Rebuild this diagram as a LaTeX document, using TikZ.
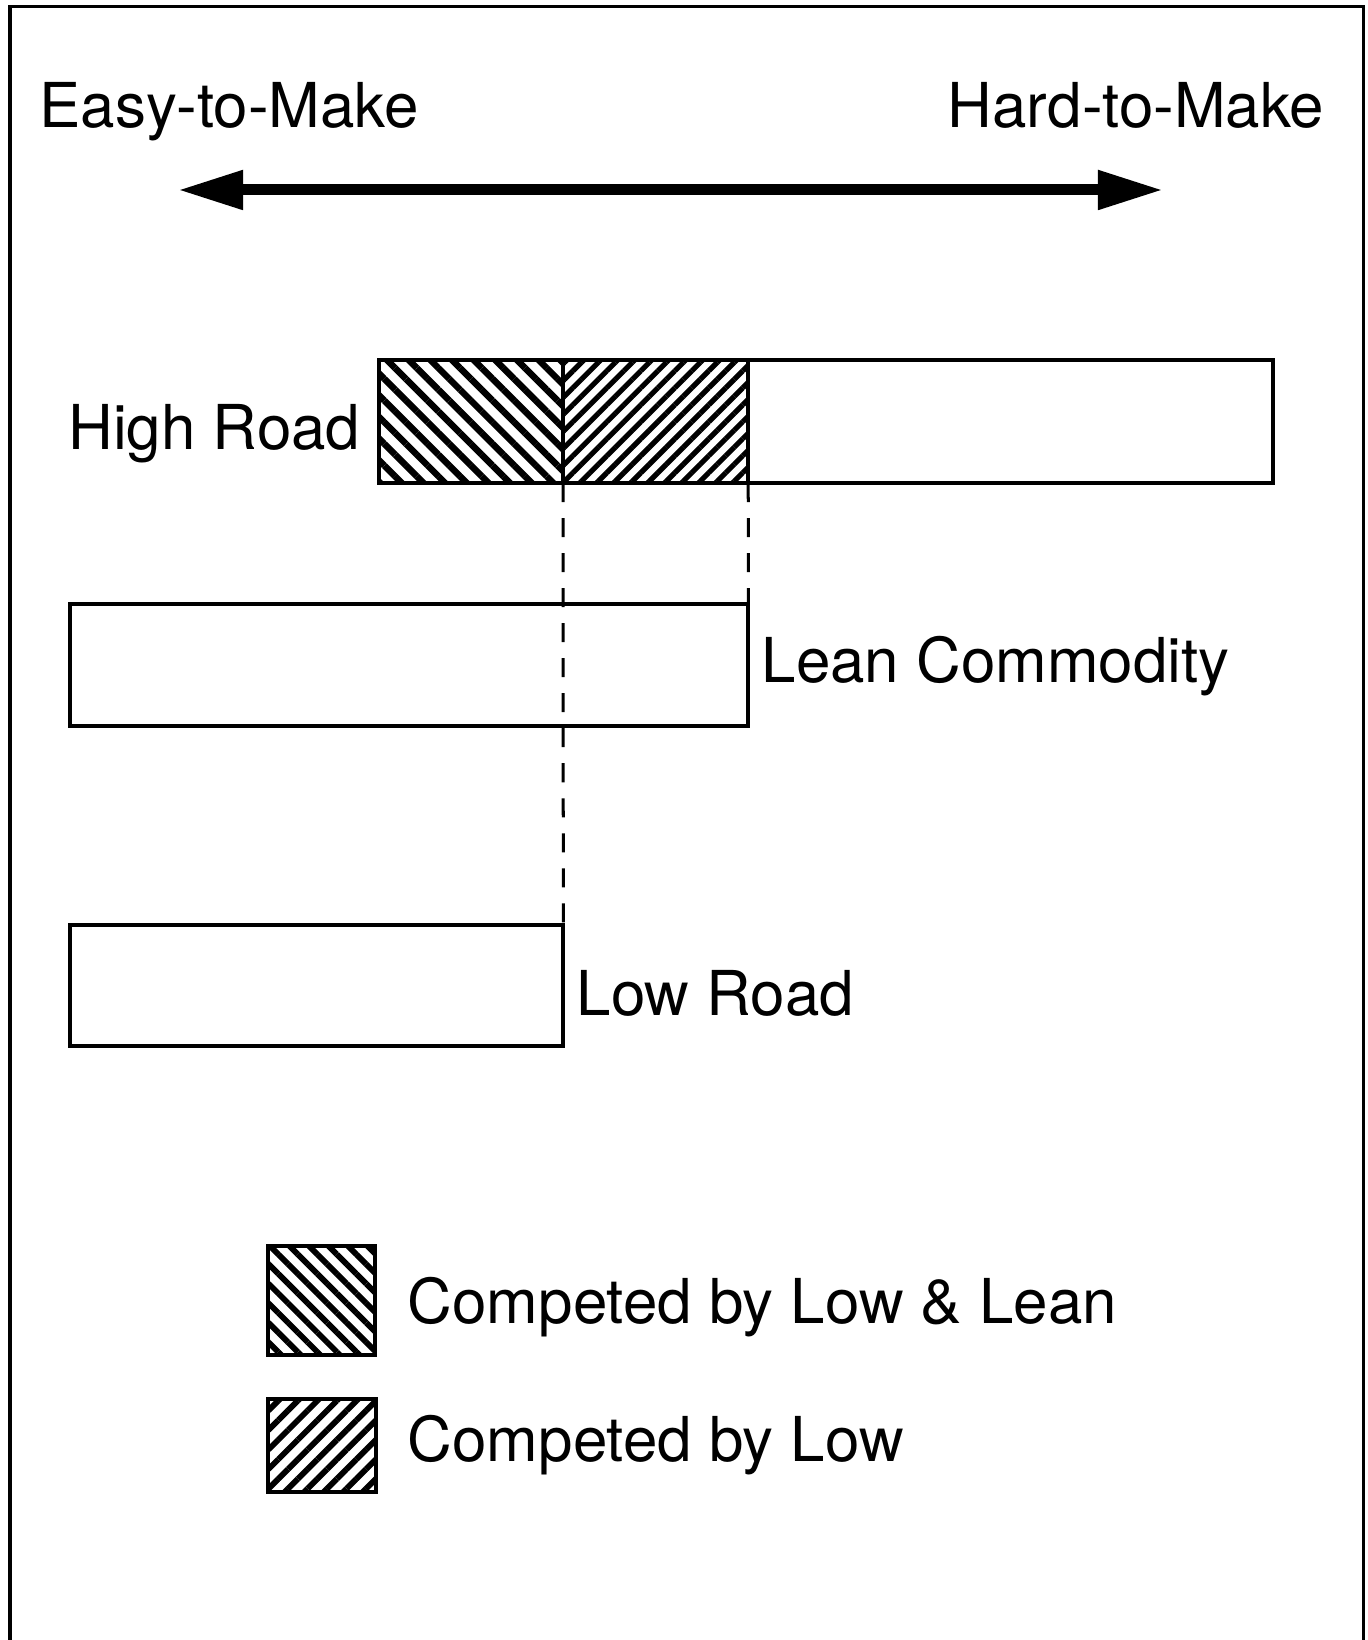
\documentclass[tikz,border=0pt]{standalone}
\usepackage{fontspec}
\setmainfont{TeX Gyre Heros}
\usetikzlibrary{positioning, arrows.meta, patterns.meta}
\tikzset{
  % --- bars and hatched parts ---
  bar/.style={draw, rectangle, line width=0.04cm, inner sep=0pt, outer sep=0pt,
    anchor=north west},
  lowlean/.style={bar, pattern={Lines[angle=-45, distance=0.153cm, line width=0.065cm]}},
  lowonly/.style={bar, pattern={Lines[angle=45, distance=0.12cm, line width=0.052cm]}},
  keylowlean/.style={bar, pattern={Lines[angle=-45, distance=0.138cm, line width=0.058cm]}},
  keylow/.style={bar, pattern={Lines[angle=45, distance=0.138cm, line width=0.058cm]}},
  % --- text and lines ---
  lbl/.style={font=\fontsize{17.6pt}{21pt}\selectfont, inner sep=0pt},
  guide/.style={line width=0.03cm, dash pattern=on 0.19cm off 0.16cm},
  axis/.style={{Triangle[length=0.65cm, width=0.37cm]}-{Triangle[length=0.65cm, width=0.37cm]},
    line width=0.11cm},
}

\begin{document}
\begin{tikzpicture}[x=0.01cm, y=-0.01cm]
    \useasboundingbox (0,0) rectangle (1367,1640);
    % frame (open at the bottom)
    \draw[line width=0.03cm] (10,1640) -- (10,7) -- (1363,7) -- (1363,1640);
    % axis
    \node[lbl, anchor=base west] (easy) at (39,128) {Easy-to-Make};
    \node[lbl, anchor=base east] (hard) at (1325,128) {Hard-to-Make};
    \coordinate (axl) at (178,190);
    \coordinate (axr) at (1163,190);
    \draw[axis] (axl) -- (axr);
    % bars
    \node[bar, minimum width=8.93cm, minimum height=1.23cm] (high) at (379,360) {};
    \node[lowlean, minimum width=1.84cm, minimum height=1.23cm] (hatchA) at (379,360) {};
    \node[lowonly, minimum width=1.85cm, minimum height=1.23cm] (hatchB) at (hatchA.north east) {};
    \node[bar, minimum width=6.78cm, minimum height=1.22cm] (lean) at (70,604) {};
    \node[bar, minimum width=4.93cm, minimum height=1.21cm] (low) at (70,925) {};
    \node[lbl, anchor=base east] (highlbl) at (361,450) {High Road};
    \node[lbl, anchor=base west] (leanlbl) at (761,682) {Lean Commodity};
    \node[lbl, anchor=base west] (lowlbl) at (576,1015) {Low Road};
    % guides
    \draw[guide] (hatchA.south east) -- (low.north east);
    \draw[guide] (hatchB.south east) -- (lean.north east);
    % legend
    \node[keylowlean, minimum width=1.07cm, minimum height=1.09cm] (keyA) at (268,1246) {};
    \node[keylow, minimum width=1.08cm, minimum height=0.93cm] (keyB) at (268,1399) {};
    \node[lbl, anchor=base west] (keyAtxt) at (407,1323) {Competed by Low \& Lean};
    \node[lbl, anchor=base west] (keyBtxt) at (407,1461) {Competed by Low};
\end{tikzpicture}
\end{document}
